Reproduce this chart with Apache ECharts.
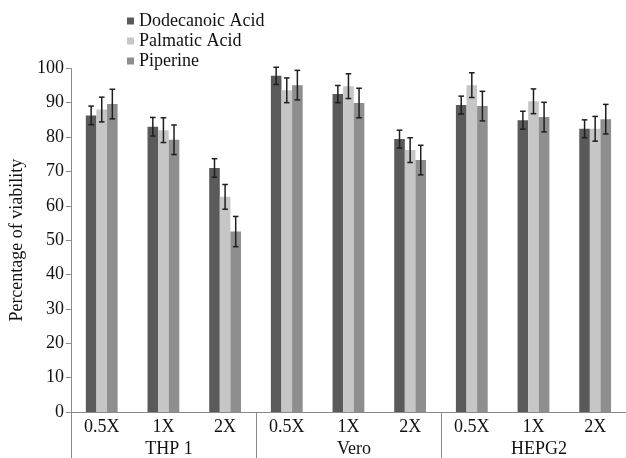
<!DOCTYPE html>
<html>
<head>
<meta charset="utf-8">
<script src="https://cdn.jsdelivr.net/npm/echarts@6/dist/echarts.min.js"></script>
<style>
  html, body { margin: 0; padding: 0; background: #ffffff; }
  #chart { width: 626px; height: 458px; }
</style>
</head>
<body>
<div id="chart"></div>
<script>
// Dose levels per cell line and the cell lines they belong to
const doses = ['0.5X', '1X', '2X', '0.5X', '1X', '2X', '0.5X', '1X', '2X'];
const cellLines = ['THP 1', 'Vero', 'HEPG2'];
const yTicks = [0, 10, 20, 30, 40, 50, 60, 70, 80, 90, 100];

// Mean viability (%) for each compound
const dodecanoicAcid = [86.3, 83.0, 71.0, 97.8, 92.5, 79.4, 89.3, 84.9, 82.4];
const palmaticAcid   = [88.0, 82.0, 62.6, 93.6, 94.8, 76.2, 95.1, 90.4, 82.4];
const piperine       = [89.6, 79.2, 52.5, 95.1, 89.9, 73.3, 89.0, 85.8, 85.2];

// Standard deviations drawn as error bars
const dodecanoicErr = [2.7, 2.7, 2.7, 2.5, 2.5, 2.6, 2.6, 2.6, 2.6];
const palmaticErr   = [3.6, 3.6, 3.6, 3.6, 3.6, 3.6, 3.6, 3.6, 3.6];
const piperineErr   = [4.3, 4.3, 4.4, 4.3, 4.3, 4.3, 4.3, 4.3, 4.3];

const seriesNames = ['Dodecanoic Acid', 'Palmatic Acid', 'Piperine'];
const seriesValues = [dodecanoicAcid, palmaticAcid, piperine];
const seriesErrors = [dodecanoicErr, palmaticErr, piperineErr];
const colors = ['#5a5a5a', '#c6c6c6', '#8e8e8e'];

const FONT = "'Liberation Serif', 'Times New Roman', 'DejaVu Serif', serif";
const BAR_W = 10.6;
const AXIS_GRAY = '#8a8a8a';

function errorBarRenderer(k) {
  return function (params, api) {
    const x = api.value(0), y = api.value(1), e = api.value(2);
    const hi = api.coord([x, y + e]);
    const lo = api.coord([x, y - e]);
    const cx = hi[0] + (k - 1) * BAR_W;
    const half = 2.8;
    const style = { stroke: '#1e1e1e', lineWidth: 1.5 };
    return {
      type: 'group',
      children: [
        { type: 'line', shape: { x1: cx, y1: hi[1], x2: cx, y2: lo[1] }, style: style },
        { type: 'line', shape: { x1: cx - half, y1: hi[1], x2: cx + half, y2: hi[1] }, style: style },
        { type: 'line', shape: { x1: cx - half, y1: lo[1], x2: cx + half, y2: lo[1] }, style: style }
      ]
    };
  };
}

const series = [];
seriesNames.forEach(function (name, k) {
  series.push({
    name: name,
    type: 'bar',
    xAxisIndex: 0,
    barWidth: BAR_W,
    barGap: '0%',
    itemStyle: { color: colors[k] },
    data: seriesValues[k]
  });
});
seriesNames.forEach(function (name, k) {
  series.push({
    name: name + ' error',
    type: 'custom',
    xAxisIndex: 0,
    z: 10,
    renderItem: errorBarRenderer(k),
    encode: { x: 0, y: 1 },
    data: seriesValues[k].map(function (v, i) { return [i, v, seriesErrors[k][i]]; })
  });
});

const chart = echarts.init(document.getElementById('chart'), null, { renderer: 'canvas' });
chart.setOption({
  animation: false,
  backgroundColor: '#ffffff',
  textStyle: { fontFamily: FONT, color: '#111' },
  legend: {
    data: seriesNames,
    orient: 'vertical',
    left: 127,
    top: 11,
    padding: 0,
    itemWidth: 7,
    itemHeight: 7,
    itemGap: 0,
    icon: 'rect',
    textStyle: { fontFamily: FONT, fontSize: 18, color: '#111', lineHeight: 20 }
  },
  grid: { left: 67.7, right: -3.6, top: 68.3, bottom: 45.3, containLabel: false },
  xAxis: [
    {
      type: 'category',
      data: doses,
      position: 'bottom',
      axisLine: { show: true, lineStyle: { color: AXIS_GRAY, width: 1 } },
      axisTick: { show: false },
      axisLabel: { interval: 0, margin: 6, fontFamily: FONT, fontSize: 18, color: '#111' },
      splitLine: { show: false }
    },
    {
      type: 'category',
      data: cellLines,
      position: 'bottom',
      axisLine: { show: false },
      axisTick: { show: true, length: 50, interval: 0, lineStyle: { color: AXIS_GRAY, width: 1 } },
      axisLabel: { interval: 0, margin: 28, fontFamily: FONT, fontSize: 18, color: '#111', padding: [0, 0, 0, 11] },
      splitLine: { show: false }
    }
  ],
  yAxis: {
    type: 'value',
    min: yTicks[0],
    max: yTicks[yTicks.length - 1],
    interval: 10,
    name: 'Percentage of viability',
    nameLocation: 'middle',
    nameGap: 23,
    nameTextStyle: { fontFamily: FONT, fontSize: 18, color: '#111' },
    axisLine: { show: true, lineStyle: { color: AXIS_GRAY, width: 1 } },
    axisTick: { show: true, length: 5, lineStyle: { color: AXIS_GRAY } },
    axisLabel: { margin: 7, fontFamily: FONT, fontSize: 18, color: '#111' },
    splitLine: { show: false }
  },
  series: series
});
</script>
</body>
</html>
